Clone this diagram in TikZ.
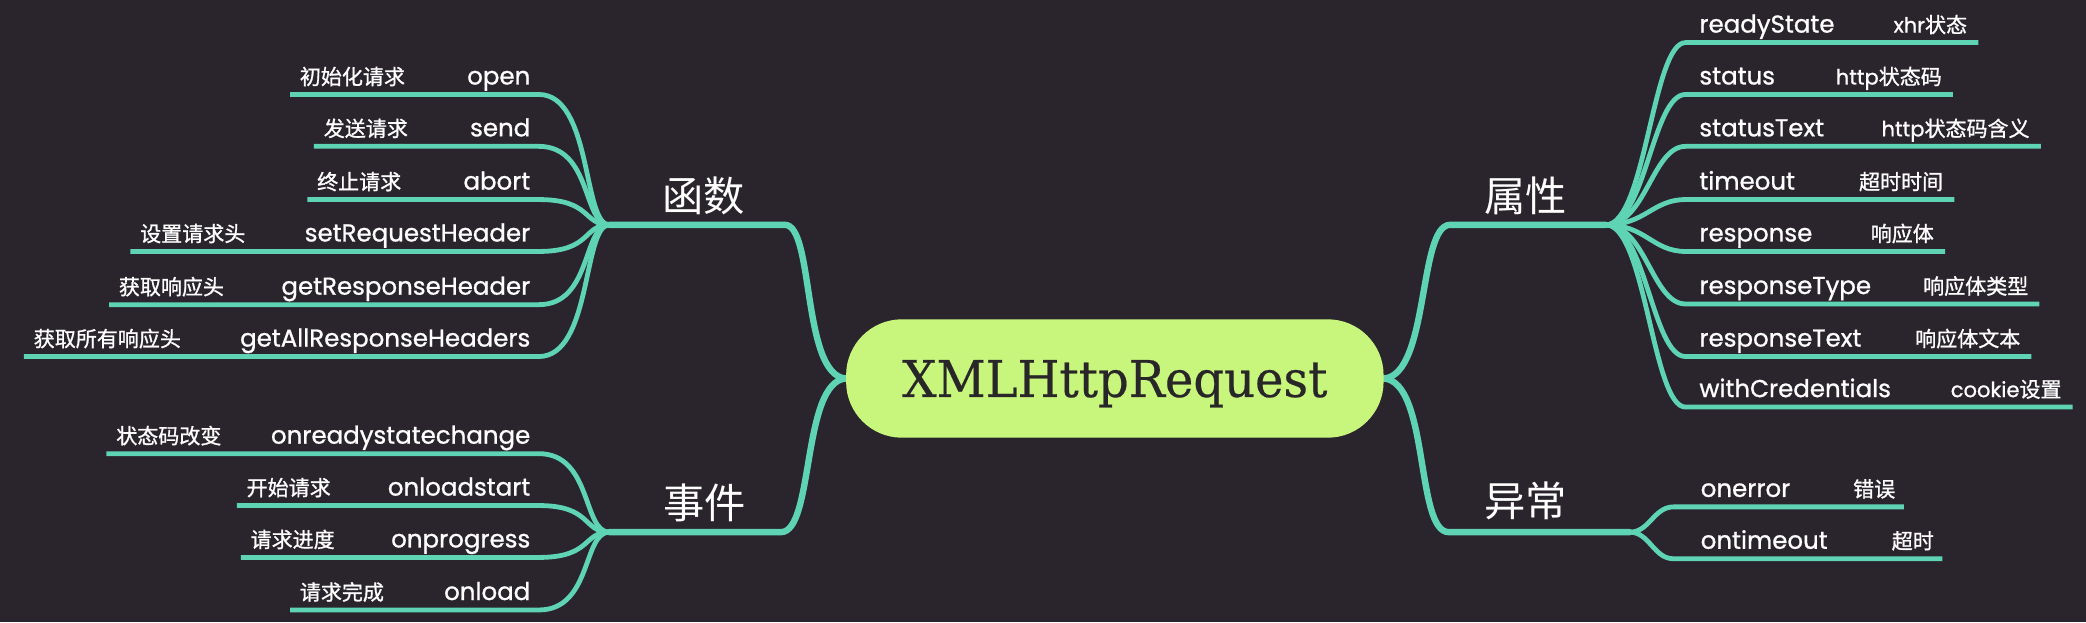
\documentclass[tikz,border=0pt]{standalone}
\usepackage{fontspec}
\newfontfamily\enfont{Poppins}[FakeBold=0.9]
\newfontfamily\cjkfont{Noto Sans CJK SC}[FakeBold=1.0]
\newfontfamily\cjktitle{Noto Sans CJK SC}
\newfontfamily\rootfont{DejaVu Serif}[FakeBold=0.4]
\newcommand\latn[1]{{\enfont #1}}
\definecolor{bgc}{RGB}{42,37,44}
\definecolor{mmteal}{RGB}{94,212,181}
\definecolor{rootgreen}{RGB}{200,246,124}
\definecolor{roottxt}{RGB}{40,38,40}
\pgfdeclarelayer{bglayer}
\pgfdeclarelayer{linelayer}
\pgfsetlayers{bglayer,linelayer,main}
\tikzset{
  mainline/.style={draw=mmteal, line width=2.4pt, line cap=round},
  childline/.style={draw=mmteal, line width=1.8pt},
  entext/.style={font=\enfont\fontsize{9.2}{11}\selectfont, text=white, inner sep=0pt},
  zhtext/.style={font=\cjkfont\fontsize{7.9}{9}\selectfont, text=white, inner sep=0pt},
  titletext/.style={font=\cjktitle\fontsize{15.5}{18}\selectfont, text=white, inner sep=0pt},
  rootnode/.style={fill=rootgreen, rounded corners=21pt, minimum width=202pt,
    minimum height=44.5pt, inner sep=0pt, text=roottxt,
    font=\rootfont\fontsize{19}{22}\selectfont, text height=13.85pt, text depth=0pt}
}
\begin{document}
\begin{tikzpicture}[x=0.5pt,y=-0.5pt]
\begin{pgfonlayer}{bglayer}
\path[fill=bgc] (0,0) rectangle (1568,467.6);
\end{pgfonlayer}

% root
\node[rootnode] (root) at (838,284.5) {\scalebox{0.95}[1]{XMLHttpRequest}};

% titles
\node[titletext, anchor=base] (tfunc) at (529,159) {函数};
\node[titletext, anchor=base] (tevt) at (529.5,389.5) {事件};
\node[titletext, anchor=base] (tprop) at (1147,159) {属性};
\node[titletext, anchor=base] (terr) at (1147,388.5) {异常};

% branch coordinates
\coordinate (fL) at (458,169);
\coordinate (fR) at (590,169);
\coordinate (sL) at (458,400);
\coordinate (sR) at (587,400);
\coordinate (pL) at (1090,169);
\coordinate (pR) at (1207,169);
\coordinate (yL) at (1089,400);
\coordinate (yR) at (1225,400);

\begin{pgfonlayer}{linelayer}
\draw[mainline] (root.west) .. controls +(-33,-3) and +(22,0) .. (fR) -- (fL);
\draw[mainline] (root.west) .. controls +(-33,3) and +(25,0) .. (sR) -- (sL);
\draw[mainline] (root.east) .. controls +(34,-3) and +(-24,0) .. (pL) -- (pR);
\draw[mainline] (root.east) .. controls +(34,3) and +(-25,0) .. (yL) -- (yR);
\end{pgfonlayer}

% functions
\foreach \yy/\xx/\nm/\lb [count=\i] in {
  71/218/open/初始化请求,
  110/236/send/发送请求,
  150/231/abort/终止请求,
  189/98/setRequestHeader/设置请求头,
  229/82/getResponseHeader/获取响应头,
  268/18/getAllResponseHeaders/获取所有响应头}{
  \coordinate (fe\i) at (405,\yy);
  \coordinate (fs\i) at (\xx,\yy);
  \node[entext, anchor=base east] (fn\i) at (399,\yy-7.5) {\nm};
  \node[zhtext, anchor=base west] (fz\i) at (\xx+7,\yy-7.5) {\lb};
  \begin{pgfonlayer}{linelayer}
  \draw[childline] (fL) .. controls +(-20,0) and +(40,0) .. (fe\i) -- (fs\i);
  \end{pgfonlayer}
}

% events
\foreach \yy/\xx/\nm/\lb [count=\i] in {
  341/80/onreadystatechange/状态码改变,
  380/178/onloadstart/开始请求,
  419/181/onprogress/请求进度,
  458.5/218/onload/请求完成}{
  \coordinate (se\i) at (405,\yy);
  \coordinate (ss\i) at (\xx,\yy);
  \node[entext, anchor=base east] (sn\i) at (399,\yy-7.5) {\nm};
  \node[zhtext, anchor=base west] (sz\i) at (\xx+7,\yy-7.5) {\lb};
  \begin{pgfonlayer}{linelayer}
  \draw[childline] (sL) .. controls +(-20,0) and +(40,0) .. (se\i) -- (ss\i);
  \end{pgfonlayer}
}

% properties
\foreach \yy/\xx/\nm/\lb [count=\i] in {
  32/1487/readyState/\latn{xhr}状态,
  71/1468/status/\latn{http}状态码,
  110/1534/statusText/\latn{http}状态码含义,
  150/1469/timeout/超时时间,
  189/1462/response/响应体,
  228.5/1533/responseType/响应体类型,
  268/1527/responseText/响应体文本,
  306/1558/withCredentials/\latn{cookie}设置}{
  \coordinate (pe\i) at (1267,\yy);
  \coordinate (ps\i) at (\xx,\yy);
  \node[entext, anchor=base west] (pn\i) at (1277,\yy-7.5) {\nm};
  \node[zhtext, anchor=base east] (pz\i) at (\xx-8,\yy-7.5) {\lb};
  \begin{pgfonlayer}{linelayer}
  \draw[childline] (pR) .. controls +(30,0) and +(-25,0) .. (pe\i) -- (ps\i);
  \end{pgfonlayer}
}

% errors
\foreach \yy/\xx/\nm/\lb [count=\i] in {
  381/1431/onerror/错误,
  420/1460/ontimeout/超时}{
  \coordinate (ye\i) at (1258,\yy);
  \coordinate (ys\i) at (\xx,\yy);
  \node[entext, anchor=base west] (yn\i) at (1278,\yy-7.5) {\nm};
  \node[zhtext, anchor=base east] (yz\i) at (\xx-6,\yy-7.5) {\lb};
  \begin{pgfonlayer}{linelayer}
  \draw[childline] (yR) .. controls +(15,0) and +(-15,0) .. (ye\i) -- (ys\i);
  \end{pgfonlayer}
}
\end{tikzpicture}
\end{document}
